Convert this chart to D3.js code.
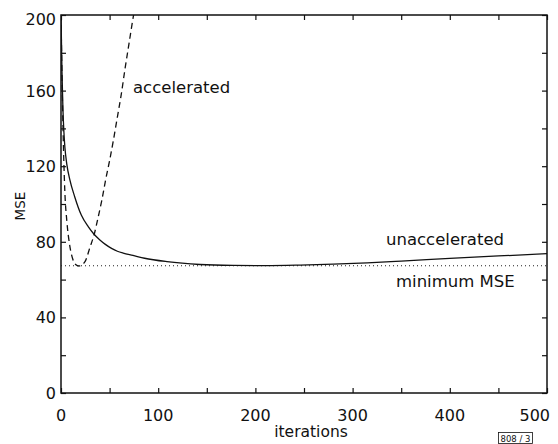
<!DOCTYPE html>
<html>
<head>
<meta charset="utf-8">
<script src="https://cdn.jsdelivr.net/npm/d3@7"></script>
<style>
  body { margin: 0; background: #fff; }
  text { font-family: "DejaVu Sans", sans-serif; fill: #111; }
</style>
</head>
<body>
<div id="chart"></div>
<script>
// values
var accIter = [0, 1, 2, 3, 4, 6, 9, 12, 15, 18.5, 22, 25, 30, 34, 38, 42, 46, 50, 54, 58, 62, 66, 70, 74, 75];
var accMSE  = [200, 168, 142, 121, 106, 91, 78, 71, 68, 67.2, 68, 69.8, 77.4, 83.6, 92.5, 102, 113, 123, 134, 146, 158, 172, 185, 198, 201];

var unaccIter = [0, 1, 2, 3, 4, 6, 9, 14, 21, 28, 34, 40, 46, 52, 58, 64, 74, 86, 109, 143, 177, 210, 246, 280, 315, 350, 400, 450, 500];
var unaccMSE  = [200, 170, 150, 138, 130, 121, 113, 104, 94, 88, 84, 81, 78.5, 76.5, 75, 74, 72.8, 71.3, 69.5, 68, 67.5, 67.4, 67.7, 68.2, 68.9, 69.8, 71.2, 72.5, 73.7];

var minMSE = 67.3;

var xTicks = [0, 50, 100, 150, 200, 250, 300, 350, 400, 450, 500];
var xLabels = [0, 100, 200, 300, 400, 500];
var yTicks = [0, 20, 40, 60, 80, 100, 120, 140, 160, 180, 200];
var yLabels = [0, 40, 80, 120, 160, 200];

var margin = { top: 15, right: 11, bottom: 51, left: 61 },
    width = 558 - margin.left - margin.right,
    height = 444 - margin.top - margin.bottom;

var svg = d3.select("#chart").append("svg")
    .attr("width", 558)
    .attr("height", 444);

var g = svg.append("g")
    .attr("transform", "translate(" + margin.left + "," + margin.top + ")");

var x = d3.scaleLinear().domain([0, 500]).range([0, width]);
var y = d3.scaleLinear().domain([0, 200]).range([height, 0]);

g.append("clipPath").attr("id", "plotclip")
  .append("rect").attr("width", width).attr("height", height);

// ticks on all four sides, pointing inward
var tickLen = 5;
g.append("g").attr("transform", "translate(0," + height + ")")
    .call(d3.axisBottom(x).tickValues(xTicks).tickSize(-tickLen).tickFormat(""));
g.append("g")
    .call(d3.axisTop(x).tickValues(xTicks).tickSize(-tickLen).tickFormat(""));
g.append("g")
    .call(d3.axisLeft(y).tickValues(yTicks).tickSize(-tickLen).tickFormat(""));
g.append("g").attr("transform", "translate(" + width + ",0)")
    .call(d3.axisRight(y).tickValues(yTicks).tickSize(-tickLen).tickFormat(""));
g.selectAll(".domain").remove();
g.selectAll(".tick line").attr("stroke", "#111").attr("stroke-width", 1.2);

// frame
g.append("rect")
    .attr("width", width).attr("height", height)
    .attr("fill", "none").attr("stroke", "#111").attr("stroke-width", 1.5);

// tick labels
g.selectAll(".xlab").data(xLabels).enter().append("text")
    .attr("class", "xlab")
    .attr("x", function(d) { return d === 500 ? x(d) + 3 : x(d); })
    .attr("y", height + 28)
    .attr("text-anchor", function(d) { return d === 500 ? "end" : "middle"; })
    .style("font-size", "16px")
    .text(function(d) { return d; });

g.selectAll(".ylab").data(yLabels).enter().append("text")
    .attr("class", "ylab")
    .attr("x", -5)
    .attr("y", function(d) { return y(d); })
    .attr("dy", function(d) { return d === 200 ? 10 : 6; })
    .attr("text-anchor", "end")
    .style("font-size", "16px")
    .text(function(d) { return d; });

// axis titles
svg.append("text")
    .attr("x", 311).attr("y", 437)
    .attr("text-anchor", "middle")
    .style("font-size", "15.5px")
    .text("iterations");

svg.append("text")
    .attr("transform", "translate(25,206) rotate(-90)")
    .attr("text-anchor", "middle")
    .style("font-size", "13.5px")
    .text("MSE");

// curves
var plot = g.append("g").attr("clip-path", "url(#plotclip)");

var line = d3.line()
    .x(function(d) { return x(d[0]); })
    .y(function(d) { return y(d[1]); })
    .curve(d3.curveMonotoneX);

plot.append("line")
    .attr("x1", x(0)).attr("x2", x(500))
    .attr("y1", y(minMSE)).attr("y2", y(minMSE))
    .attr("stroke", "#222").attr("stroke-width", 1.1)
    .attr("stroke-dasharray", "1,3");

plot.append("path")
    .datum(d3.zip(unaccIter, unaccMSE))
    .attr("d", line)
    .attr("fill", "none").attr("stroke", "#111").attr("stroke-width", 1.3);

plot.append("path")
    .datum(d3.zip(accIter, accMSE))
    .attr("d", line)
    .attr("fill", "none").attr("stroke", "#111").attr("stroke-width", 1.3)
    .attr("stroke-dasharray", "6,4");

// annotations
svg.append("text").attr("x", 133).attr("y", 93)
    .style("font-size", "16.5px").text("accelerated");
svg.append("text").attr("x", 386).attr("y", 245)
    .style("font-size", "16.5px").text("unaccelerated");
svg.append("text").attr("x", 396).attr("y", 287)
    .style("font-size", "16.5px").text("minimum MSE");

// figure id stamp
svg.append("rect")
    .attr("x", 498.5).attr("y", 432.5).attr("width", 34).attr("height", 11)
    .attr("fill", "none").attr("stroke", "#111").attr("stroke-width", 0.8);
svg.append("text").attr("x", 515.5).attr("y", 441.5)
    .attr("text-anchor", "middle")
    .style("font-size", "8.5px").text("808 / 3");
</script>
</body>
</html>
